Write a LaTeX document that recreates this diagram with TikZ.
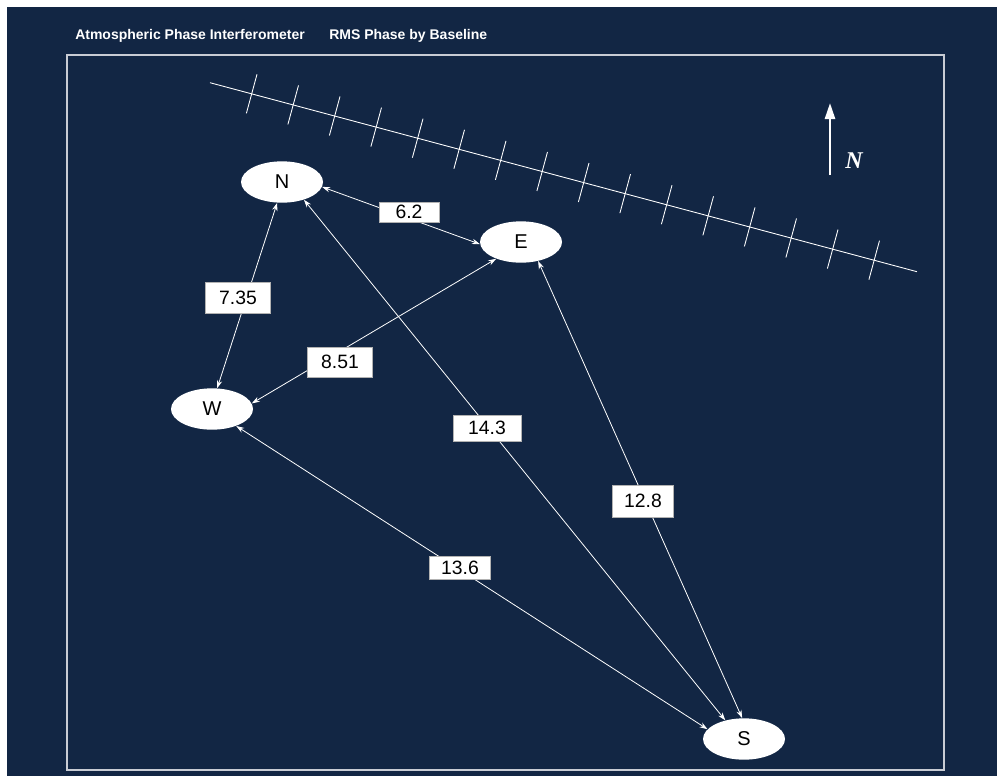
\documentclass[tikz,border=0pt]{standalone}
\usepackage{fontspec}
\setmainfont{Liberation Sans}
\newfontfamily\nfont{Liberation Serif}
\usetikzlibrary{shapes.geometric,arrows.meta}
\definecolor{bgnavy}{HTML}{122644}
\definecolor{framegray}{HTML}{C8CCD4}
\begin{document}
\begin{tikzpicture}[x=0.75pt,y=-0.75pt,
  station/.style={ellipse, fill=white, minimum width=61.5pt, minimum height=31pt, inner sep=0pt, font=\fontsize{15}{17}\selectfont, text=black},
  lab/.style={rectangle, fill=white, draw=gray!60, line width=0.4pt, inner sep=0pt, font=\fontsize{14.5}{16}\selectfont, text=black},
  edge/.style={draw=white, line width=0.6pt, {Stealth[length=6pt,width=4pt]}-{Stealth[length=6pt,width=4pt]}},
  titletext/.style={anchor=base west, text=white, font=\fontsize{10.5}{12}\selectfont\bfseries, inner sep=0pt},
  hatchline/.style={draw=white, line width=0.65pt}
]
% page and background
\fill[white] (0,0) rectangle (997,776);
\useasboundingbox (0,0) rectangle (997,776);
\fill[bgnavy] (7,7) rectangle (997,776);
\draw[framegray, line width=1.1pt] (67,55) rectangle (944,770);

% title
\node[titletext] (t1) at (75,39) {Atmospheric Phase Interferometer};
\node[titletext] (t2) at (329,39) {RMS Phase by Baseline};

% hatched line
\draw[hatchline] (210,82.7) -- (917,271.7);
\foreach \i in {0,...,15} {
  \pgfmathsetmacro{\cx}{251.7+41.5*\i}
  \pgfmathsetmacro{\cy}{93.8+11.09*\i}
  \draw[hatchline] (\cx+5.3,\cy-19.5) -- (\cx-5.3,\cy+19.5);
}

% north arrow
\coordinate (nb) at (830,175);
\coordinate (nt) at (830,103);
\draw[white, line width=1.9pt, -{Triangle[length=12pt,width=7.5pt]}] (nb) -- (nt);
\node[anchor=base west, text=white, inner sep=0pt, font=\nfont\fontsize{18}{20}\selectfont\bfseries\itshape] (nlab) at (845,168) {N};

% stations
\node[station] (N) at (282,182) {N};
\node[station] (E) at (521,242) {E};
\node[station] (W) at (212,409) {W};
\node[station] (S) at (744,739) {S};

% baselines
\draw[edge] (N.-7) -- (E.183);
\draw[edge] (N.-103) -- (W.76);
\draw[edge] (E.214) -- (W.8);
\draw[edge] (N.-39) -- (S.135);
\draw[edge] (E.-48) -- (S.95);
\draw[edge] (W.-35) -- (S.165);

% labels
\node[lab, minimum width=45pt, minimum height=15pt] (l62) at (409,212) {6.2};
\node[lab, minimum width=48.75pt, minimum height=23.25pt] (l735) at (238,298) {7.35};
\node[lab, minimum width=48.75pt, minimum height=22.5pt] (l851) at (340,362) {8.51};
\node[lab, minimum width=51pt, minimum height=19.5pt] (l143) at (487,428) {14.3};
\node[lab, minimum width=45.75pt, minimum height=24pt] (l128) at (643,501) {12.8};
\node[lab, minimum width=45.75pt, minimum height=17.25pt] (l136) at (460,568) {13.6};
\end{tikzpicture}
\end{document}
